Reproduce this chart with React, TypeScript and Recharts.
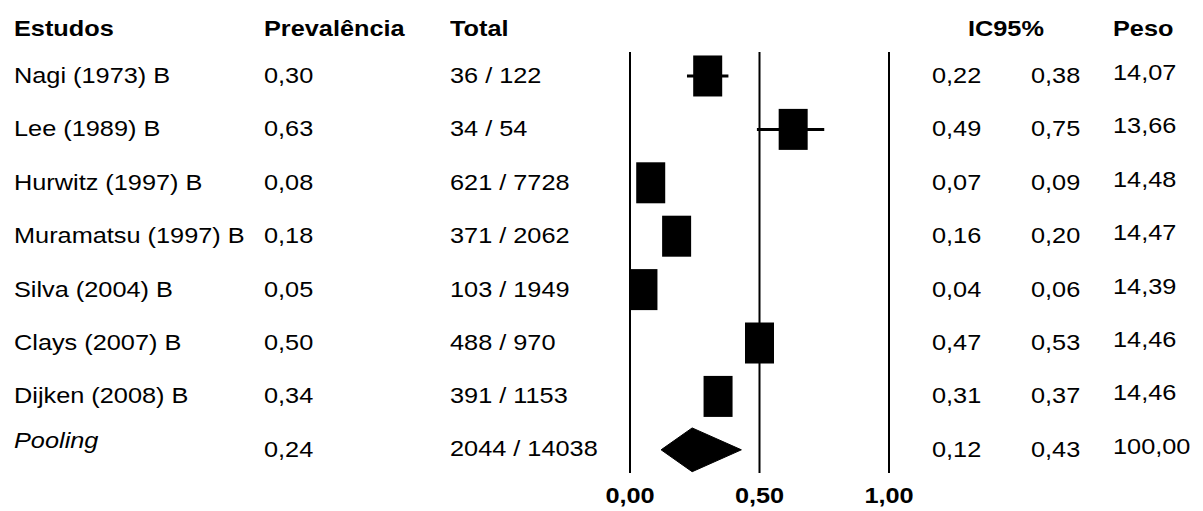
import React from "react";
import { ScatterChart, Scatter, XAxis, YAxis, ReferenceLine, ErrorBar } from "recharts";

const studies = ["Nagi (1973) B", "Lee (1989) B", "Hurwitz (1997) B", "Muramatsu (1997) B", "Silva (2004) B", "Clays (2007) B", "Dijken (2008) B"];
const prevalence = [0.30, 0.63, 0.08, 0.18, 0.05, 0.50, 0.34];
const events = [36, 34, 621, 371, 103, 488, 391];
const totals = [122, 54, 7728, 2062, 1949, 970, 1153];
const lower = [0.22, 0.49, 0.07, 0.16, 0.04, 0.47, 0.31];
const upper = [0.38, 0.75, 0.09, 0.20, 0.06, 0.53, 0.37];
const weights = [14.07, 13.66, 14.48, 14.47, 14.39, 14.46, 14.46];

const pooledLabel = "Pooling";
const pooledPrev = 0.24;
const pooledEvents = 2044;
const pooledTotal = 14038;
const pooledLower = 0.12;
const pooledUpper = 0.43;
const pooledWeight = 100.0;

const xTicks = [0, 0.5, 1];
const headers = ["Estudos", "Prevalência", "Total", "IC95%", "Peso"];

// layout constants
const W = 1187;
const H = 503;
const M = { top: 44, right: 306, left: 622, bottom: 0 };
const AXIS_H = 38;
const Y_MIN = 0.551;
const Y_MAX = 8.434;
const BOX_W = 29;
const BOX_H = 41;
const DIAMOND_HALF = 0.41;
const FONT = "'Liberation Sans', Arial, sans-serif";
const STRETCH = 1.15;

const fmt = (v: number) => v.toFixed(2).replace(".", ",");

const studyData = studies.map((s, i) => ({
  x: prevalence[i],
  y: i + 1,
  err: [prevalence[i] - lower[i], upper[i] - prevalence[i]],
}));
const pooledRow = studies.length + 1;
const diamondData = [
  { x: pooledLower, y: pooledRow },
  { x: pooledPrev, y: pooledRow - DIAMOND_HALF },
  { x: pooledUpper, y: pooledRow },
  { x: pooledPrev, y: pooledRow + DIAMOND_HALF },
  { x: pooledLower, y: pooledRow },
];

const plotH = H - M.top - M.bottom - AXIS_H;
const rowY = (i: number) => M.top + ((i - Y_MIN) / (Y_MAX - Y_MIN)) * plotH;

const Box = (props: any) => {
  const { cx, cy } = props;
  return <rect x={cx - BOX_W / 2} y={cy - BOX_H / 2} width={BOX_W} height={BOX_H} fill="#000" />;
};

const Tick = (props: any) => {
  const { x, y, payload } = props;
  return (
    <text
      transform={`translate(${x},${y + 30}) scale(${STRETCH},1)`}
      textAnchor="middle"
      fontFamily={FONT}
      fontSize={22}
      fontWeight="bold"
      fill="#000"
    >
      {fmt(payload.value)}
    </text>
  );
};

const Cell = ({ left, cy, children, bold, italic }: any) => (
  <div
    style={{
      position: "absolute",
      left,
      top: cy - 11,
      fontFamily: FONT,
      fontSize: 22,
      lineHeight: "22px",
      fontWeight: bold ? "bold" : "normal",
      fontStyle: italic ? "italic" : "normal",
      whiteSpace: "nowrap",
      transform: `scaleX(${STRETCH})`,
      transformOrigin: "left center",
      color: "#000",
    }}
  >
    {children}
  </div>
);

const COLS = { name: 6, prev: 256, total: 442, lo: 924, hi: 1023, peso: 1105, ic: 960 };
const HEADER_Y = 21;

export default function App() {
  const rows = studies.map((s, i) => ({
    name: s,
    prev: fmt(prevalence[i]),
    tot: `${events[i]} / ${totals[i]}`,
    lo: fmt(lower[i]),
    hi: fmt(upper[i]),
    w: fmt(weights[i]),
    italic: false,
  }));
  rows.push({
    name: pooledLabel,
    prev: fmt(pooledPrev),
    tot: `${pooledEvents} / ${pooledTotal}`,
    lo: fmt(pooledLower),
    hi: fmt(pooledUpper),
    w: fmt(pooledWeight),
    italic: true,
  });

  return (
    <div style={{ position: "relative", width: W, height: H, background: "#fff" }}>
      <ScatterChart width={W} height={H} margin={M}>
        <XAxis
          type="number"
          dataKey="x"
          domain={[0, 1]}
          ticks={xTicks}
          axisLine={false}
          tickLine={false}
          tickSize={0}
          tickMargin={0}
          height={AXIS_H}
          tick={<Tick />}
          interval={0}
          allowDataOverflow
        />
        <YAxis type="number" dataKey="y" domain={[Y_MIN, Y_MAX]} reversed hide allowDataOverflow />
        {xTicks.map((t) => (
          <ReferenceLine key={t} x={t} stroke="#000" strokeWidth={2} />
        ))}
        <Scatter data={studyData} shape={<Box />} fill="#000" isAnimationActive={false}>
          <ErrorBar dataKey="err" direction="x" width={0} stroke="#000" strokeWidth={3} />
        </Scatter>
        <Scatter
          data={diamondData}
          shape={() => <g />}
          line={{ stroke: "#000", fill: "#000", strokeWidth: 1 }}
          fill="#000"
          isAnimationActive={false}
        />
      </ScatterChart>
      <Cell left={COLS.name} cy={HEADER_Y} bold>{headers[0]}</Cell>
      <Cell left={COLS.prev} cy={HEADER_Y} bold>{headers[1]}</Cell>
      <Cell left={COLS.total} cy={HEADER_Y} bold>{headers[2]}</Cell>
      <Cell left={COLS.ic} cy={HEADER_Y} bold>{headers[3]}</Cell>
      <Cell left={COLS.peso} cy={HEADER_Y} bold>{headers[4]}</Cell>
      {rows.map((r, i) => {
        const cy = rowY(i + 1);
        return (
          <React.Fragment key={r.name}>
            <Cell left={COLS.name} cy={r.italic ? cy - 9 : cy} italic={r.italic}>{r.name}</Cell>
            <Cell left={COLS.prev} cy={cy}>{r.prev}</Cell>
            <Cell left={COLS.total} cy={r.italic ? cy - 1 : cy}>{r.tot}</Cell>
            <Cell left={COLS.lo} cy={cy}>{r.lo}</Cell>
            <Cell left={COLS.hi} cy={cy}>{r.hi}</Cell>
            <Cell left={COLS.peso} cy={cy - 3}>{r.w}</Cell>
          </React.Fragment>
        );
      })}
    </div>
  );
}
